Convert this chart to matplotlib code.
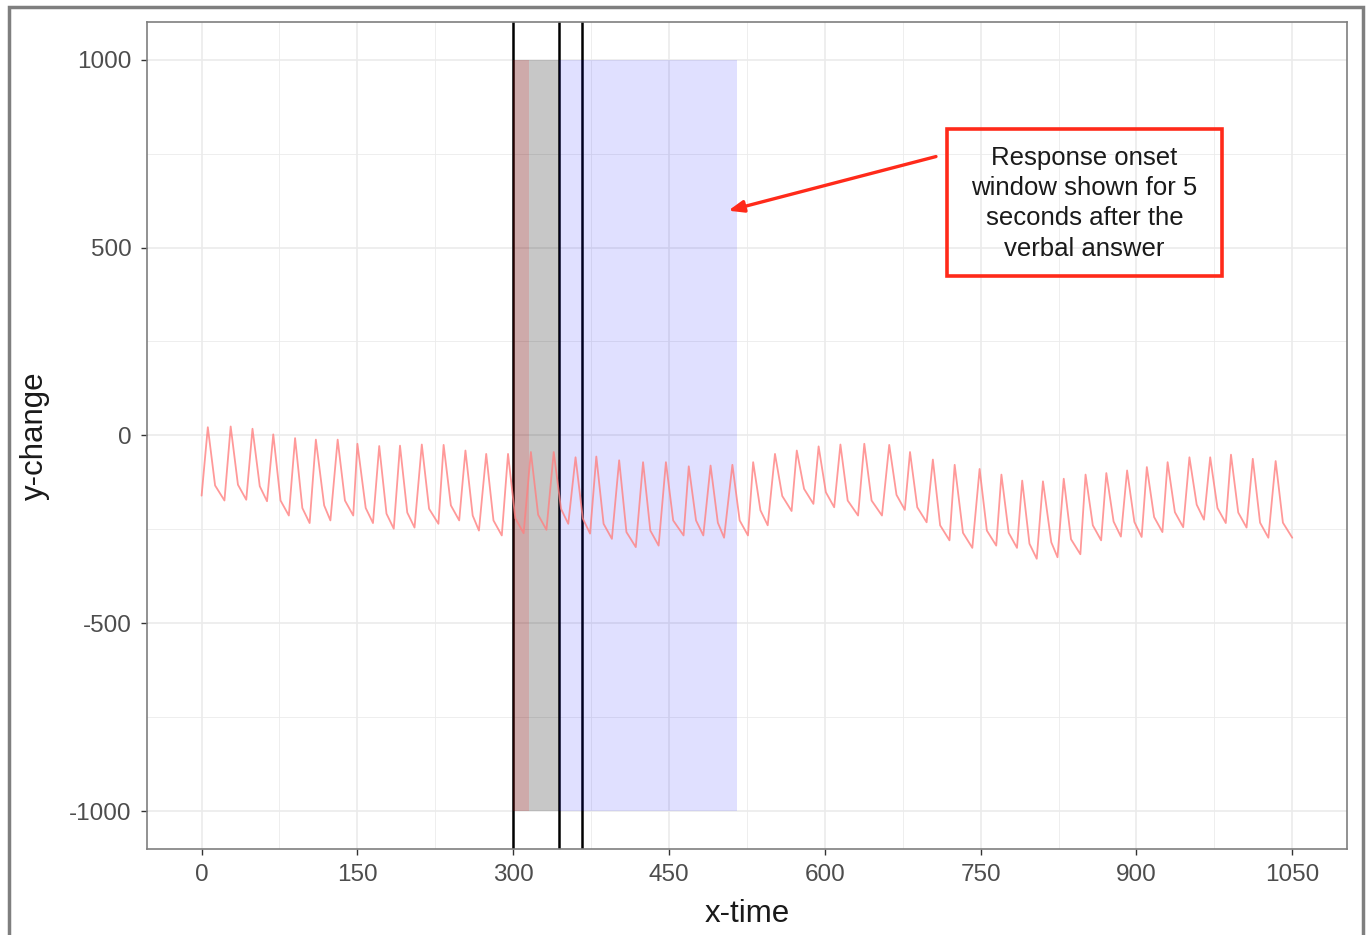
import numpy as np
import matplotlib.pyplot as plt
from matplotlib.patches import Rectangle

plt.rcParams['font.family'] = ['Liberation Sans', 'DejaVu Sans']
plt.rcParams['axes.unicode_minus'] = False

# signal: start point, then peak / shoulder / trough per cycle
start_x, start_y = 0, -160
peak_x = [6, 28, 49, 69, 90, 110, 131, 150, 171, 191, 212, 233, 254, 274, 295,
          317, 339, 360, 380, 402, 425, 447, 469, 490, 511, 531, 552, 573, 594, 615,
          638, 662, 682, 704, 725, 749, 770, 790, 810, 830, 851, 871, 891, 910, 930,
          951, 971, 991, 1012, 1034]
peak_y = [22, 24, 18, 3, -7, -11, -11, -22, -28, -27, -24, -25, -40, -49, -49,
          -44, -44, -58, -56, -66, -71, -71, -82, -80, -78, -71, -49, -40, -29, -24,
          -22, -25, -44, -64, -78, -89, -104, -120, -122, -115, -104, -100, -93, -84, -71,
          -58, -58, -51, -62, -68]
shoulder_x = [13, 35, 56, 76, 97, 118, 138, 158, 178, 198, 219, 240, 261, 281, 302,
              324, 346, 367, 387, 409, 432, 454, 476, 497, 518, 538, 559, 580, 601, 622,
              645, 669, 689, 711, 733, 756, 777, 797, 818, 837, 858, 878, 898, 917, 937,
              958, 978, 998, 1019, 1041]
shoulder_y = [-133, -131, -135, -173, -193, -186, -173, -193, -208, -205, -195, -186, -213, -226, -220,
              -211, -195, -221, -235, -257, -253, -226, -226, -232, -226, -199, -161, -142, -151, -173,
              -173, -158, -191, -239, -259, -253, -259, -288, -284, -276, -239, -229, -230, -217, -204,
              -184, -193, -205, -232, -232]
trough_x = [22, 43, 63, 84, 104, 124, 146, 165, 185, 205, 228, 248, 267, 289, 310,
            332, 353, 374, 395, 418, 440, 464, 483, 503, 526, 545, 568, 589, 609, 632,
            655, 677, 698, 720, 742, 765, 785, 804, 824, 846, 866, 885, 905, 925, 945,
            965, 986, 1006, 1027, 1050]
trough_y = [-173, -171, -175, -213, -233, -226, -213, -233, -248, -245, -235, -226, -253, -266, -260,
            -251, -235, -261, -275, -297, -293, -266, -266, -272, -266, -239, -201, -182, -191, -213,
            -213, -198, -231, -279, -299, -293, -299, -328, -324, -316, -279, -269, -270, -257, -244,
            -224, -233, -245, -272, -272]

# shaded windows and markers
gray_window = (300, 344)
red_window = (300, 315)
blue_window = (344, 515)
window_y = (-1000, 1000)
vline_x = [300, 344, 366]

xticks = [0, 150, 300, 450, 600, 750, 900, 1050]
yticks = [-1000, -500, 0, 500, 1000]

note = "Response onset\nwindow shown for 5\nseconds after the\nverbal answer"

xs = [start_x]
ys = [start_y]
for i in range(len(peak_x)):
    xs += [peak_x[i], shoulder_x[i], trough_x[i]]
    ys += [peak_y[i], shoulder_y[i], trough_y[i]]

fig = plt.figure(figsize=(13.68, 9.35), dpi=100)
ax = fig.add_axes([0.1075, 0.092, 0.877, 0.8845])

ax.set_xlim(-52.5, 1102.5)
ax.set_ylim(-1100, 1100)
ax.set_xticks(xticks)
ax.set_yticks(yticks)
ax.set_xticks(np.array(xticks[:-1]) + 75, minor=True)
ax.set_yticks(np.array(yticks[:-1]) + 250, minor=True)
ax.grid(which='major', color='#ebebeb', lw=1.2, zorder=0)
ax.grid(which='minor', color='#ebebeb', lw=0.6, zorder=0)
ax.set_axisbelow(True)
ax.tick_params(which='minor', length=0)
ax.tick_params(which='major', length=4, width=1, color='#333333',
               labelsize=17.5, labelcolor='#4d4d4d', pad=7)
for s in ax.spines.values():
    s.set_color('#7f7f7f')
    s.set_linewidth(1.2)

for xv in vline_x:
    ax.axvline(xv, color='#000000', lw=1.8, zorder=2)

ax.fill_between(gray_window, *window_y, color='black', alpha=0.22, lw=0, zorder=3)
ax.fill_between(red_window, *window_y, color='red', alpha=0.14, lw=0, zorder=3)
ax.fill_between(blue_window, *window_y, color='blue', alpha=0.12, lw=0, zorder=3)

ax.plot(xs, ys, color='#ff8080', lw=1.3, alpha=0.8, zorder=4,
        solid_joinstyle='round', solid_capstyle='round')

ax.set_xlabel('x-time', fontsize=22.5, color='#1a1a1a', labelpad=9)
ax.set_ylabel('y-change', fontsize=22.5, color='#1a1a1a', labelpad=14)

# annotation box and arrow
ax.add_patch(Rectangle((717.6, 425.5), 265.1, 390.5, fill=False,
                       edgecolor='#ff2a1a', lw=2.6, zorder=6))
ax.text(850, 618, note, ha='center', va='center', fontsize=18.5,
        color='#1a1a1a', linespacing=1.33, zorder=6)
ax.annotate('', xy=(507, 598), xytext=(707, 742),
            arrowprops=dict(arrowstyle='-|>,head_length=0.9,head_width=0.35',
                            color='#ff2a1a', lw=2.4, shrinkA=0, shrinkB=0),
            zorder=6)

# outer frame of the screenshot
fig.patches.append(Rectangle((0.0066, -0.1), 0.9898, 1.0925, transform=fig.transFigure,
                             fill=False, edgecolor='#7f7f7f', lw=2.5))

fig.savefig('out.png', dpi=100)
